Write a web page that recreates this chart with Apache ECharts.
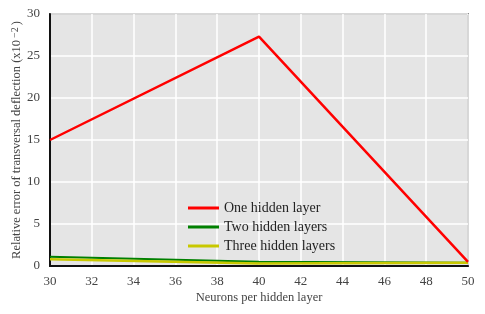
<!DOCTYPE html>
<html><head><meta charset="utf-8">
<script src="https://cdn.jsdelivr.net/npm/echarts@6/dist/echarts.min.js"></script>
<style>html,body{margin:0;padding:0;background:#fff}#c{width:485px;height:314px}</style>
</head><body><div id="c"></div>
<script>
const neurons = [30, 40, 50];
const oneHidden = [15.0, 27.3, 0.5];
const twoHidden = [1.1, 0.5, 0.4];
const threeHidden = [0.8, 0.3, 0.4];
const seriesNames = ['One hidden layer', 'Two hidden layers', 'Three hidden layers'];

const chart = echarts.init(document.getElementById('c'));
const font = 'Liberation Serif';
function pts(v){ return neurons.map((x,i)=>[x,v[i]]); }
chart.setOption({
  animation: false,
  grid: {left: 50, right: 17, top: 14, bottom: 48, containLabel: false, outerBoundsMode: 'none', show: true, backgroundColor: '#e5e5e5', borderColor: '#333', borderWidth: 1.5},
  xAxis: {type: 'value', min: 30, max: 50, interval: 2,
    name: 'Neurons per hidden layer', nameLocation: 'middle', nameGap: 25, nameMoveOverlap: false,
    nameTextStyle: {fontFamily: font, fontSize: 12.5, color: '#444'},
    axisLine: {lineStyle: {color: '#111', width: 2}}, axisTick: {show: false},
    axisLabel: {fontFamily: font, fontSize: 13, color: '#444', margin: 9},
    splitLine: {show: true, lineStyle: {color: '#fff', width: 1.5}}},
  yAxis: {type: 'value', min: 0, max: 30, interval: 5,
    name: '{a|Relative error of transversal deflection (x10}{s|−2}{a|)}', nameLocation: 'middle', nameGap: 26, nameMoveOverlap: false,
    nameTextStyle: {fontFamily: font, fontSize: 12.5, color: '#444',
      rich: {a: {fontFamily: font, fontSize: 12.5, color: '#444'}, s: {fontFamily: font, fontSize: 10, color: '#444', verticalAlign: 'bottom', padding:[0,2,4,2]}}},
    axisLine: {show: true, lineStyle: {color: '#111', width: 2}}, axisTick: {show: false},
    axisLabel: {fontFamily: font, fontSize: 13, color: '#444', margin: 10},
    splitLine: {show: true, lineStyle: {color: '#fff', width: 1.5}}},
  legend: {orient: 'vertical', left: 183, top: 196, itemWidth: 31, itemHeight: 3, itemGap: 5,
    icon: 'rect', textStyle: {fontFamily: font, fontSize: 14, color: '#222'},
    data: seriesNames},
  series: [
    {name: seriesNames[0], type: 'line', data: pts(oneHidden), showSymbol: false, lineStyle: {color: '#ff0000', width: 2.5}, itemStyle: {color: '#ff0000'}, z: 3},
    {name: seriesNames[1], type: 'line', data: pts(twoHidden), showSymbol: false, lineStyle: {color: '#008000', width: 2}, itemStyle: {color: '#008000'}, z: 2},
    {name: seriesNames[2], type: 'line', data: pts(threeHidden), showSymbol: false, lineStyle: {color: '#c8c800', width: 2.5}, itemStyle: {color: '#c8c800'}, z: 2}
  ]
});
</script></body></html>
